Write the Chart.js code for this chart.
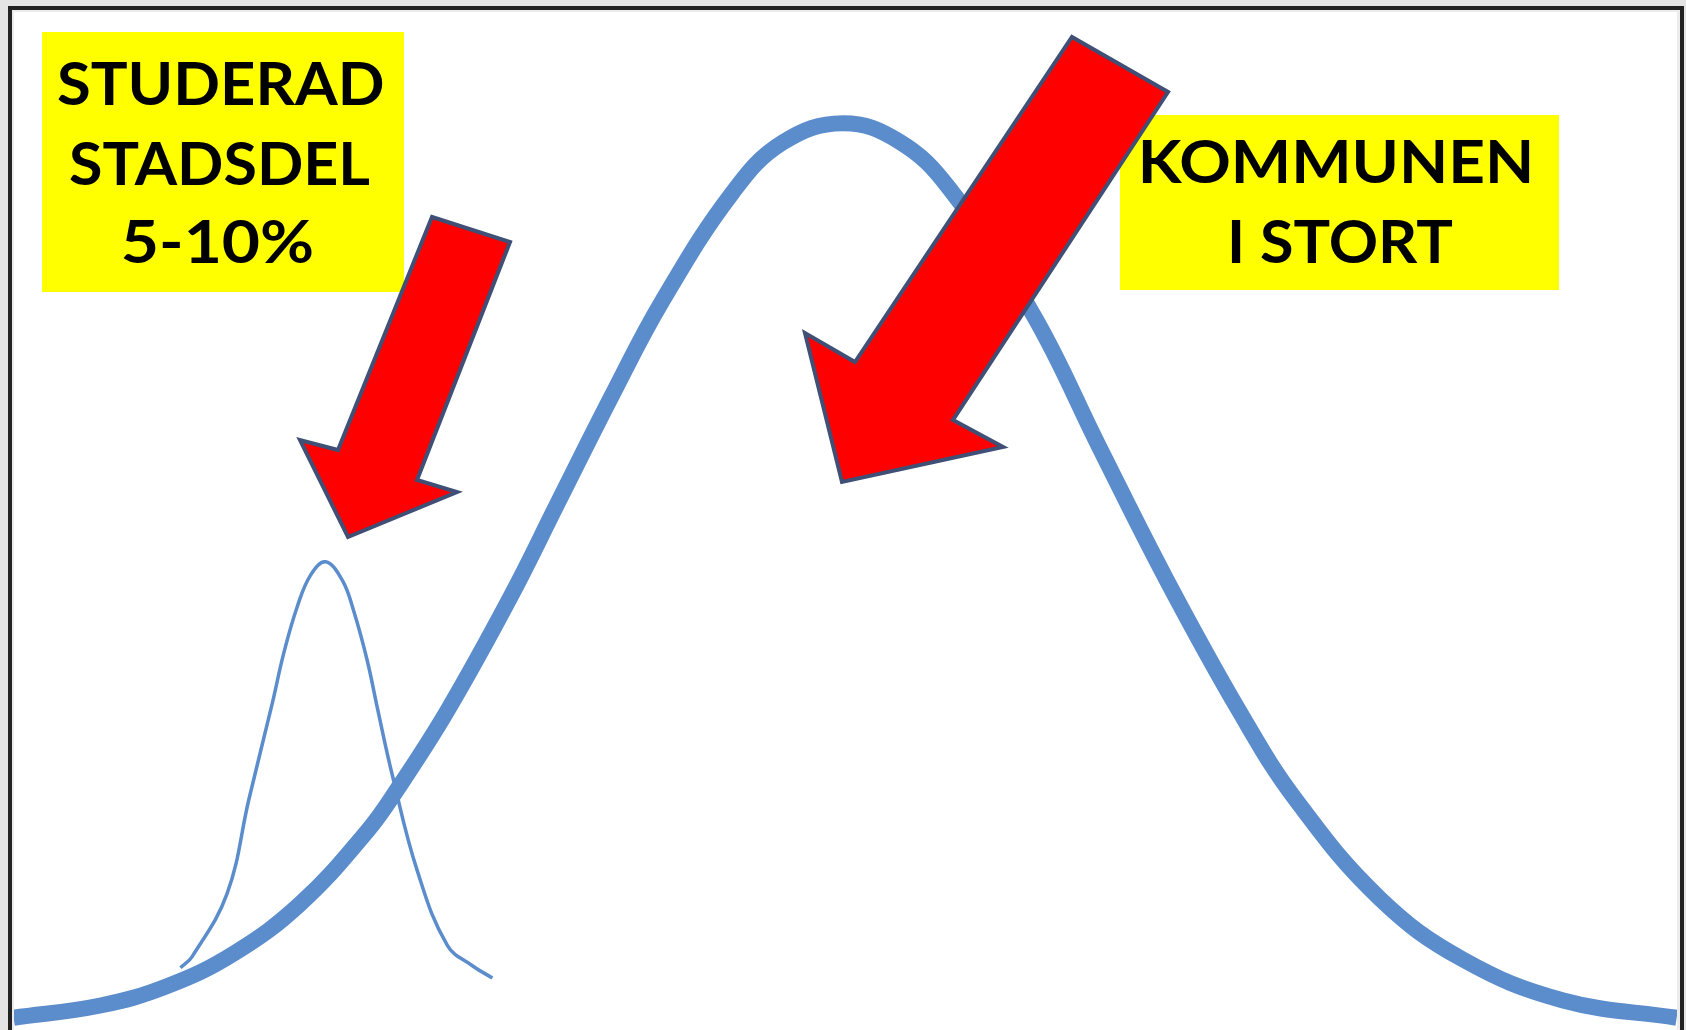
<!DOCTYPE html>
<html>
<head>
<meta charset="utf-8">
<script src="https://cdn.jsdelivr.net/npm/chart.js@4/dist/chart.umd.min.js"></script>
<style>
html, body { margin: 0; padding: 0; background: #fff; overflow: hidden; }
canvas { display: block; }
</style>
</head>
<body>
<canvas id="graph" width="1686" height="1030"></canvas>
<script>
//--- data (x and y on a 0..100 scale)
var kommunX = [0.1, 5.3, 9.3, 13.3, 17.3, 21.3, 23.1, 26.1, 29.9, 32.7, 36.0, 39.0, 43.2, 46.2, 49.8, 53.2, 56.2, 61.2, 65.2, 69.2, 73.6, 77.0, 82.0, 87.0, 93.0, 99.8];
var kommunY = [1.2, 2.4, 4.3, 7.5, 12.4, 19.5, 23.6, 31.3, 42.5, 51.6, 62.3, 71.5, 82.1, 87.0, 88.9, 87.1, 82.5, 70.2, 57.1, 44.2, 31.2, 22.5, 12.9, 6.9, 2.9, 1.2];

var stadsdelX = [10.1, 10.8, 12.9, 14.2, 15.6, 16.3, 17.1, 17.9, 18.8, 19.8, 20.5, 21.3, 21.9, 22.8, 24.3, 26.1, 27.6, 28.8];
var stadsdelY = [6.1, 7.2, 13.4, 22.6, 32.0, 37.0, 41.5, 44.6, 45.9, 44.1, 41.0, 36.2, 31.6, 25.0, 15.6, 8.3, 6.3, 5.1];

var leftLabel = ['STUDERAD', 'STADSDEL', '5-10%'];
var rightLabel = ['KOMMUNEN', 'I STORT'];

var lineColor = '#5B8CCB';

function toPoints(xs, ys) {
    var pts = [];
    for (var i = 0; i < xs.length; i++) {
        pts.push({ x: xs[i], y: ys[i] });
    }
    return pts;
}

//--- text fitted between two x positions
function drawLabelLine(ctx, text, x0, x1, base, capH) {
    var size = capH / 0.72;
    ctx.font = 'bold ' + size + 'px Lato, "Open Sans", sans-serif';
    ctx.textAlign = 'left';
    ctx.textBaseline = 'alphabetic';
    var m = ctx.measureText(text);
    var ink = m.actualBoundingBoxLeft + m.actualBoundingBoxRight;
    var sx = (x1 - x0) / ink;
    ctx.save();
    ctx.translate(x0, base);
    ctx.scale(sx, 1);
    ctx.fillStyle = '#000';
    ctx.fillText(text, m.actualBoundingBoxLeft, 0);
    ctx.restore();
}

function drawArrow(ctx, pts) {
    ctx.save();
    ctx.beginPath();
    ctx.moveTo(pts[0][0], pts[0][1]);
    for (var i = 1; i < pts.length; i++) ctx.lineTo(pts[i][0], pts[i][1]);
    ctx.closePath();
    ctx.fillStyle = '#FF0000';
    ctx.fill();
    ctx.lineWidth = 4;
    ctx.lineJoin = 'miter';
    ctx.strokeStyle = '#3F4F75';
    ctx.stroke();
    ctx.restore();
}

var decor = {
    id: 'decor',
    beforeDraw: function (chart) {
        var ctx = chart.ctx;
        ctx.save();
        ctx.fillStyle = '#fff';
        ctx.fillRect(0, 0, chart.width, chart.height);
        ctx.restore();
    },
    afterDraw: function (chart) {
        var ctx = chart.ctx;
        ctx.save();
        // label boxes
        ctx.fillStyle = '#FFFF00';
        ctx.fillRect(42, 32, 362, 260);
        ctx.fillRect(1120, 115, 439, 175);
        drawLabelLine(ctx, leftLabel[0], 58, 383, 105, 43);
        drawLabelLine(ctx, leftLabel[1], 70, 370, 185, 43);
        drawLabelLine(ctx, leftLabel[2], 123, 312, 263, 43);
        drawLabelLine(ctx, rightLabel[0], 1142, 1530, 183, 43);
        drawLabelLine(ctx, rightLabel[1], 1231, 1452, 263, 43);

        // arrows
        drawArrow(ctx, [[432, 217], [510, 242], [417, 480], [457, 492], [348, 537], [300, 440], [338, 450]]);
        drawArrow(ctx, [[1072, 37], [1168, 92], [953, 420], [1003, 447], [842, 482], [805, 333], [855, 362]]);

        // frame
        ctx.fillStyle = '#E4E4E4';
        ctx.fillRect(0, 0, chart.width, 6);
        ctx.fillRect(0, 0, 8, chart.height);
        ctx.fillRect(1684, 0, 2, chart.height);
        ctx.fillStyle = '#ECECEC';
        ctx.fillRect(8, 10, 1676, 2);
        ctx.fillRect(12, 10, 2, chart.height);
        ctx.fillRect(1677, 10, 3, chart.height);
        ctx.fillStyle = '#222';
        ctx.fillRect(8, 6, 1676, 4);
        ctx.fillRect(8, 6, 4, chart.height);
        ctx.fillRect(1680, 6, 4, chart.height);
        ctx.restore();
    }
};

new Chart(document.getElementById('graph'), {
    type: 'scatter',
    data: {
        datasets: [
            {
                label: 'Studerad stadsdel',
                data: toPoints(stadsdelX, stadsdelY),
                showLine: true,
                borderColor: lineColor,
                borderWidth: 3.5,
                pointRadius: 0,
                tension: 0.4,
                order: 0
            },
            {
                label: 'Kommunen i stort',
                data: toPoints(kommunX, kommunY),
                showLine: true,
                borderColor: lineColor,
                borderWidth: 16,
                pointRadius: 0,
                tension: 0.4,
                order: 1
            }
        ]
    },
    options: {
        responsive: false,
        animation: false,
        layout: { padding: { left: 12, right: 6, top: 10, bottom: 0 } },
        scales: {
            x: { type: 'linear', min: 0, max: 100, display: false },
            y: { type: 'linear', min: 0, max: 100, display: false }
        },
        plugins: {
            legend: { display: false },
            tooltip: { enabled: false }
        }
    },
    plugins: [decor]
});
</script>
</body>
</html>
